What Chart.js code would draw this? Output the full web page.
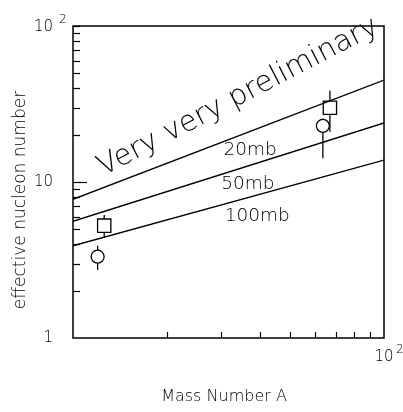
<!DOCTYPE html>
<html>
<head>
<meta charset="utf-8">
<title>Effective nucleon number</title>
<script src="https://cdn.jsdelivr.net/npm/chart.js"></script>
<style>
body { margin: 0; background: #ffffff; }
#wrap { width: 403px; height: 412px; }
</style>
</head>
<body>
<div id="wrap"><canvas id="chart" width="403" height="412"></canvas></div>
<script>
// lines (straight on log-log), values at A = 10 and A = 100
const lineA = [10, 100];
const line20mb = [7.75, 45];
const line50mb = [5.6, 23.9];
const line100mb = [3.9, 13.8];

// open squares with error bars
const squareA = [12.6, 67];
const squareN = [5.25, 29.9];
const squareLow = [4.4, 21];
const squareHigh = [6.15, 38.4];

// open circles with error bars
const circleA = [12.0, 63.6];
const circleN = [3.32, 22.9];
const circleLow = [2.73, 14.2];
const circleHigh = [3.9, 25.5];

// labels next to the lines, placed in data coordinates
const lineLabels = ['20mb', '50mb', '100mb'];
const labelA = [37.1, 36.5, 39.1];
const labelN = [16.0, 9.7, 6.05];

const stampText = 'Very very preliminary';
const stampA = 34, stampN = 35;

const FONT = '"DejaVu Sans", "Liberation Sans", sans-serif';
const W = '200 ';

function pts(xs, ys) {
  return xs.map((x, i) => ({ x: x, y: ys[i] }));
}

const lineStyle = {
  showLine: true,
  borderColor: '#000',
  borderWidth: 1.3,
  pointRadius: 0,
  fill: false
};

// error bars, axes, labels
const decor = {
  id: 'decor',
  beforeDatasetsDraw(chart) {
    const ctx = chart.ctx, xs = chart.scales.x, ys = chart.scales.y;
    ctx.save();
    ctx.strokeStyle = '#000';
    ctx.lineWidth = 1.3;
    const bars = [[squareA, squareLow, squareHigh], [circleA, circleLow, circleHigh]];
    bars.forEach(([a, lo, hi]) => {
      a.forEach((v, i) => {
        const px = xs.getPixelForValue(v);
        ctx.beginPath();
        ctx.moveTo(px, ys.getPixelForValue(lo[i]));
        ctx.lineTo(px, ys.getPixelForValue(hi[i]));
        ctx.stroke();
      });
    });
    ctx.restore();
  },
  afterDraw(chart) {
    const ctx = chart.ctx, xs = chart.scales.x, ys = chart.scales.y;
    const a = chart.chartArea;
    ctx.save();
    ctx.strokeStyle = '#000';
    ctx.fillStyle = '#000';

    // frame
    ctx.lineWidth = 1.5;
    ctx.strokeRect(a.left, a.top, a.right - a.left, a.bottom - a.top);

    // y ticks (inside, left)
    ctx.lineWidth = 1.2;
    for (let d = 1; d < 100; d *= 10) {
      for (let m = 2; m <= 10; m++) {
        const v = d * m;
        const py = Math.round(ys.getPixelForValue(v)) + 0.5;
        const len = (m === 10 && v < 100) ? 14 : 7;
        ctx.beginPath();
        ctx.moveTo(a.left, py);
        ctx.lineTo(a.left + len, py);
        ctx.stroke();
      }
    }
    // x ticks (inside, bottom)
    for (let m = 2; m < 10; m++) {
      const px = Math.round(xs.getPixelForValue(10 * m)) + 0.5;
      ctx.beginPath();
      ctx.moveTo(px, a.bottom);
      ctx.lineTo(px, a.bottom - 6);
      ctx.stroke();
    }

    // tick labels
    ctx.font = W + '15px ' + FONT;
    ctx.textBaseline = 'middle';
    ctx.textAlign = 'right';
    ctx.fillText('1', 53, ys.getPixelForValue(1));
    ctx.fillText('10', 53, ys.getPixelForValue(10));
    ctx.fillText('10', 53, ys.getPixelForValue(100) + 1);
    ctx.textAlign = 'left';
    ctx.font = W + '12px ' + FONT;
    ctx.fillText('2', 59, ys.getPixelForValue(100) - 6);

    ctx.font = W + '15px ' + FONT;
    ctx.textAlign = 'center';
    const x100 = xs.getPixelForValue(100);
    ctx.fillText('10', x100, a.bottom + 19);
    ctx.textAlign = 'left';
    ctx.font = W + '12px ' + FONT;
    ctx.fillText('2', x100 + 12, a.bottom + 12);

    // axis titles
    ctx.font = W + '16px ' + FONT;
    ctx.textAlign = 'center';
    ctx.fillText('Mass Number A', 224, 397);
    ctx.save();
    ctx.translate(21, 200);
    ctx.rotate(-Math.PI / 2);
    ctx.font = W + '17px ' + FONT;
    ctx.fillText('effective nucleon number', 0, 0);
    ctx.restore();

    // line labels
    ctx.font = W + '18.5px ' + FONT;
    lineLabels.forEach((t, i) => {
      ctx.fillText(t, xs.getPixelForValue(labelA[i]), ys.getPixelForValue(labelN[i]));
    });

    // stamp
    ctx.save();
    ctx.translate(xs.getPixelForValue(stampA), ys.getPixelForValue(stampN));
    ctx.rotate(-27.5 * Math.PI / 180);
    ctx.font = W + '29px ' + FONT;
    ctx.fillText(stampText, 0, 0);
    ctx.restore();

    ctx.restore();
  }
};

new Chart(document.getElementById('chart'), {
  type: 'scatter',
  data: {
    datasets: [
      Object.assign({ label: '20mb', data: pts(lineA, line20mb) }, lineStyle),
      Object.assign({ label: '50mb', data: pts(lineA, line50mb) }, lineStyle),
      Object.assign({ label: '100mb', data: pts(lineA, line100mb) }, lineStyle),
      {
        label: 'squares',
        data: pts(squareA, squareN),
        pointStyle: 'rect',
        pointRadius: 9.4,
        borderColor: '#000',
        borderWidth: 1.3,
        backgroundColor: '#fff'
      },
      {
        label: 'circles',
        data: pts(circleA, circleN),
        pointStyle: 'circle',
        pointRadius: 6.5,
        borderColor: '#000',
        borderWidth: 1.3,
        backgroundColor: '#fff'
      }
    ]
  },
  options: {
    responsive: false,
    animation: false,
    layout: { padding: { left: 73, top: 26, right: 19, bottom: 74 } },
    plugins: { legend: { display: false }, tooltip: { enabled: false } },
    scales: {
      x: { type: 'logarithmic', min: 10, max: 100, display: false },
      y: { type: 'logarithmic', min: 1, max: 100, display: false }
    }
  },
  plugins: [decor]
});
</script>
</body>
</html>
